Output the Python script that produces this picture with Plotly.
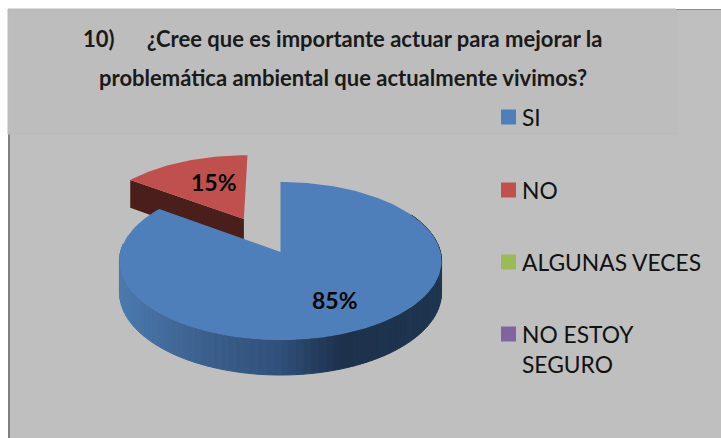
import math
import plotly.graph_objects as go

categories = ["SI", "NO", "ALGUNAS VECES", "NO ESTOY<br>SEGURO"]
values = [85, 15, 0, 0]
colors = ["#4f7fba", "#c0504d", "#9bbb59", "#8064a2"]
title_lines = ["10)      ¿Cree que es importante actuar para mejorar la",
               "problemática ambiental que actualmente vivimos?"]

W, H = 721, 438
AX, AY, RX, RY, K, DEPTH = 280.5, 252, 160, 78, 0.114, 31
EXPLODE = 0.5
EXPLODE_X = 1.06
BG = "#bfbfbf"


def project(u, v, drop=0.0):
    d = 1 + K * v
    return AX + RX * u / d, AY - RY * v / d + drop / d


def hex_rgb(c):
    return [int(c[i:i + 2], 16) for i in (1, 3, 5)]


def ramp(x):
    stops = [(120, "#4b7aae"), (200, "#3c618e"), (280, "#30507a"), (340, "#1d314c"), (442, "#1f3550")]
    for (x0, c0), (x1, c1) in zip(stops, stops[1:]):
        if x <= x1:
            t = max(0, (x - x0) / (x1 - x0))
            a, b = hex_rgb(c0), hex_rgb(c1)
            return "rgb(%d,%d,%d)" % tuple(round(p + (q - p) * t) for p, q in zip(a, b))
    return c1


def poly(pts, color, line=0):
    xs, ys = zip(*pts)
    return go.Scatter(x=list(xs) + [xs[0]], y=list(ys) + [ys[0]], mode="lines", fill="toself",
                      fillcolor=color, line=dict(color=color, width=line), hoverinfo="skip", showlegend=False)


total = sum(values)
a_si = 360 * values[0] / total          # SI runs clockwise from 12 o'clock
a_no = 360 * values[1] / total
mid_no = math.radians(a_si + a_no / 2)
ou, ov = EXPLODE * EXPLODE_X * math.sin(mid_no), EXPLODE * math.cos(mid_no)


def rim(deg, ox=0.0, oy=0.0, drop=0.0):
    t = math.radians(deg)
    return project(ox + math.sin(t), oy + math.cos(t), drop)


fig = go.Figure()

# red wedge: cut wall then top face
corner, corner_low = rim(a_si, ou, ov), rim(a_si, ou, ov, DEPTH)
apex, apex_low = project(ou, ov), project(ou, ov, DEPTH)
fig.add_trace(poly([corner, apex, apex_low, corner_low], "#4a1e1b"))
steps = 40
fig.add_trace(poly([apex] + [rim(a_si + a_no * i / steps, ou, ov) for i in range(steps + 1)], colors[1]))

# blue wall, shaded in slices
for i in range(90):
    a0, a1 = 60 + i * 2.4, 60 + (i + 1) * 2.4
    p0, p1 = rim(a0), rim(a1)
    q0, q1 = rim(a0, drop=DEPTH), rim(a1, drop=DEPTH)
    fig.add_trace(poly([p0, p1, q1, q0], ramp((p0[0] + p1[0]) / 2), 1))

# blue top face
steps = 200
fig.add_trace(poly([project(0, 0)] + [rim(a_si * i / steps) for i in range(steps + 1)], colors[0]))

# legend swatches
legend_y = [117, 190, 262, 334]
fig.add_trace(go.Scatter(x=[508.5] * 4, y=legend_y, mode="markers", hoverinfo="skip", showlegend=False,
                         marker=dict(symbol="square", size=15, color=colors, line=dict(width=0))))

ann = []
for c, y in zip(categories, legend_y):
    ann.append(dict(x=520, y=y - 16, text=c, xref="x", yref="y", xanchor="left", yanchor="top", align="left",
                    showarrow=False, font=dict(family="Lato", size=22.8, color="#111111")))
for val, (x, y) in zip(values, [(335, 300), (214, 182)]):
    ann.append(dict(x=x, y=y, text="<b>%d%%</b>" % val, xref="x", yref="y", showarrow=False,
                    font=dict(family="Lato", size=23, color="#050505")))
for line, (x, y) in zip(title_lines, [(342.5, 38), (342.5, 77)]):
    ann.append(dict(x=x, y=y, text="<b>%s</b>" % line.replace(" " * 6, "&nbsp;" * 6),
                    xref="x", yref="y", showarrow=False,
                    font=dict(family="Lato", size=22, color="#1a1a1a")))

shapes = [
    dict(type="rect", x0=8, x1=W, y0=9, y1=H, fillcolor=BG, line_width=0, layer="below"),
    dict(type="rect", x0=8, x1=10, y0=134, y1=H, fillcolor="#808080", line_width=0, layer="below"),
    dict(type="rect", x0=676, x1=W, y0=9, y1=10, fillcolor="#8c8c8c", line_width=0, layer="below"),
    dict(type="rect", x0=8, x1=676, y0=9, y1=134, fillcolor="#bdbdbd", line=dict(color="#bababa", width=1), layer="below"),
]

fig.update_layout(width=W, height=H, margin=dict(l=0, r=0, t=0, b=0), paper_bgcolor="white", plot_bgcolor="white",
                  xaxis=dict(range=[0, W], visible=False, fixedrange=True),
                  yaxis=dict(range=[H, 0], visible=False, fixedrange=True),
                  shapes=shapes, annotations=ann, showlegend=False)

fig.write_html("out.html", post_script="document.body.style.margin='0';document.body.style.overflow='hidden';",
               config=dict(displayModeBar=False))
